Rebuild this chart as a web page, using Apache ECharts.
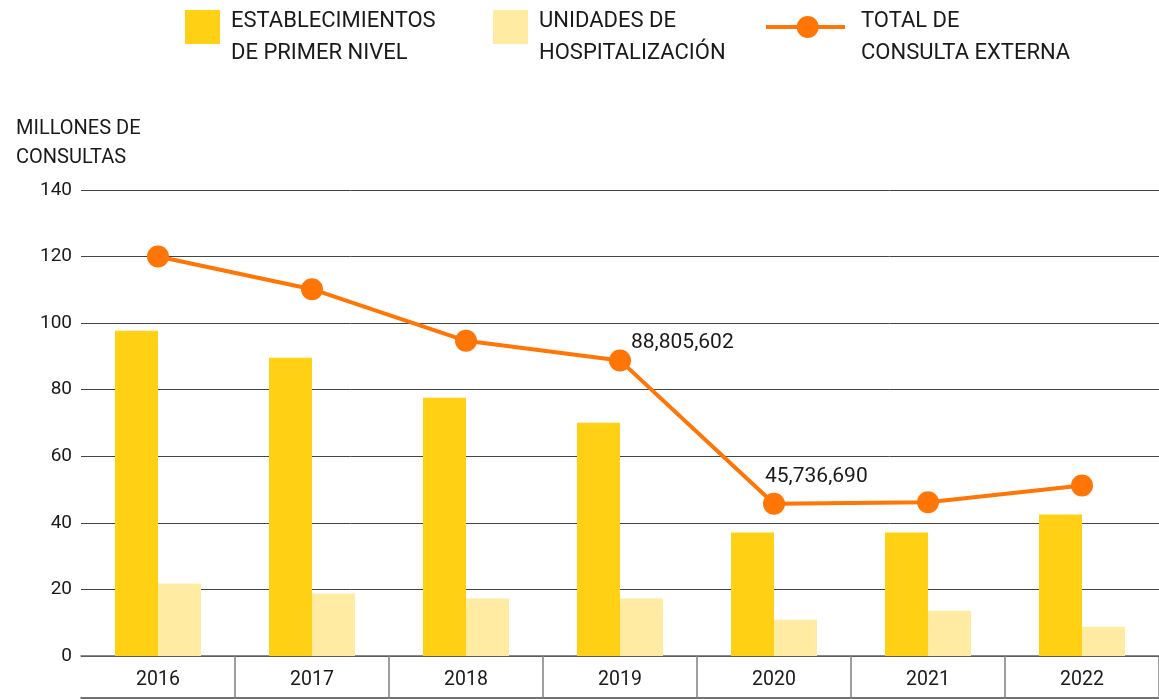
<!DOCTYPE html>
<html>
<head>
<meta charset="utf-8">
<script src="https://cdn.jsdelivr.net/npm/echarts@6/dist/echarts.min.js"></script>
<style>
  html, body { margin: 0; padding: 0; background: #ffffff; }
  #chart { width: 1159px; height: 699px; }
</style>
</head>
<body>
<div id="chart"></div>
<script>
// Consultas externas por año (millones)
const years = ['2016', '2017', '2018', '2019', '2020', '2021', '2022'];
const primerNivel = [97.7, 89.6, 77.6, 70.1, 37.1, 37.1, 42.5];
const hospitalizacion = [21.8, 18.8, 17.3, 17.3, 10.9, 13.6, 8.8];
const totalConsulta = [120.0, 110.2, 94.7, 88.805602, 45.73669, 46.2, 51.2];
const labeledYears = ['2019', '2020'];
const yTicks = { min: 0, max: 140, interval: 20 };

const seriesNames = {
  primer: 'ESTABLECIMIENTOS\nDE PRIMER NIVEL',
  hosp: 'UNIDADES DE\nHOSPITALIZACIÓN',
  total: 'TOTAL DE\nCONSULTA EXTERNA'
};

const FONT = "Roboto, 'Noto Sans', sans-serif";
const TEXT = '#1a1a1a';
const C_PRIMER = '#FFD014';
const C_HOSP = '#FFEBA1';
const C_TOTAL = '#FF7506';

// where the value callouts sit relative to their markers
const calloutOffset = { '2019': [22, -17], '2020': [2, -27] };

const fmtMillions = v => Math.round(v * 1e6).toLocaleString('en-US');

// Legend swatches: the visible shape sits in the upper part of a taller
// icon box, so the two-line caption hangs a little below the swatch.
const SWATCH_ICON = 'path://M0,0L35,0L35,34L0,34Z M0,54L35,54';
const LINE_ICON = 'path://M0,0L79,0 M0,11.5L79,11.5L79,15.5L0,15.5Z ' +
  'M30.7,13.5A11,11,0,1,1,52.7,13.5A11,11,0,1,1,30.7,13.5Z M0,47L79,47';

const legendText = (padLeft) => ({
  fontFamily: FONT, fontSize: 22, color: TEXT, lineHeight: 32,
  padding: [0, 0, 0, padLeft]
});

const chart = echarts.init(document.getElementById('chart'), null, { renderer: 'canvas' });

chart.setOption({
  animation: false,
  textStyle: { fontFamily: FONT, color: TEXT },
  title: {
    text: 'MILLONES DE\nCONSULTAS',
    left: 16, top: 114, padding: 0,
    textStyle: { fontFamily: FONT, fontSize: 20, fontWeight: 'normal', color: TEXT, lineHeight: 29 }
  },
  legend: [
    {
      data: [seriesNames.primer], left: 185, top: 5, padding: 0,
      icon: SWATCH_ICON, itemWidth: 35, itemHeight: 54, selectedMode: false,
      textStyle: legendText(6)
    },
    {
      data: [seriesNames.hosp], left: 493, top: 5, padding: 0,
      icon: SWATCH_ICON, itemWidth: 35, itemHeight: 54, selectedMode: false,
      textStyle: legendText(6)
    },
    {
      data: [seriesNames.total], left: 766, top: 5, padding: 0,
      icon: LINE_ICON, itemWidth: 79, itemHeight: 47, selectedMode: false,
      itemStyle: { color: C_TOTAL, borderWidth: 0 },
      textStyle: legendText(11)
    }
  ],
  grid: { left: 81, right: 0, top: 190, bottom: 43, containLabel: false },
  xAxis: [
    {
      type: 'category',
      data: years,
      axisLine: { show: true, lineStyle: { color: '#666', width: 1.5 } },
      axisTick: {
        show: true, length: 42, interval: (i) => i > 0,
        lineStyle: { color: '#808080', width: 1.5 }
      },
      axisLabel: { fontFamily: FONT, fontSize: 19.5, color: TEXT, margin: 14 },
      splitLine: { show: false }
    },
    {
      type: 'category',
      data: years,
      position: 'bottom',
      offset: 42,
      axisLine: { show: true, lineStyle: { color: '#444', width: 1.5 } },
      axisTick: { show: false },
      axisLabel: { show: false }
    }
  ],
  yAxis: {
    type: 'value',
    min: yTicks.min, max: yTicks.max, interval: yTicks.interval,
    axisLine: { show: false },
    axisTick: { show: false },
    axisLabel: { fontFamily: FONT, fontSize: 19, color: TEXT, margin: 9 },
    splitLine: { show: true, lineStyle: { color: '#444', width: 1 } }
  },
  series: [
    {
      name: seriesNames.primer,
      type: 'bar',
      data: primerNivel,
      barWidth: 43,
      barGap: '0%',
      itemStyle: { color: C_PRIMER },
      z: 2
    },
    {
      name: seriesNames.hosp,
      type: 'bar',
      data: hospitalizacion,
      barWidth: 43,
      barGap: '0%',
      itemStyle: { color: C_HOSP },
      z: 2
    },
    {
      name: seriesNames.total,
      type: 'line',
      data: totalConsulta.map((v, i) => {
        const y = years[i];
        if (!labeledYears.includes(y)) return v;
        return {
          value: v,
          label: {
            show: true,
            position: calloutOffset[y],
            formatter: (p) => fmtMillions(p.value),
            fontFamily: FONT, fontSize: 21, color: TEXT
          }
        };
      }),
      symbol: 'circle',
      symbolSize: 22,
      showAllSymbol: true,
      lineStyle: { color: C_TOTAL, width: 4 },
      itemStyle: { color: C_TOTAL },
      z: 5
    }
  ]
});
</script>
</body>
</html>
